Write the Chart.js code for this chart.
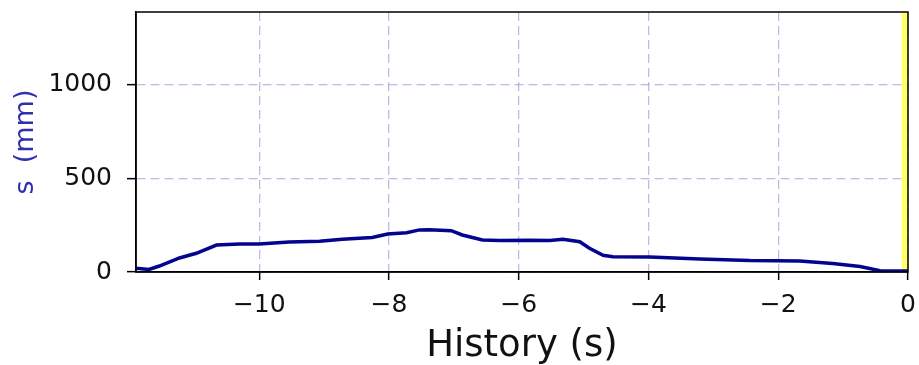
<!DOCTYPE html>
<html>
<head>
<meta charset="utf-8">
<script src="https://cdn.jsdelivr.net/npm/chart.js@4.4.0/dist/chart.umd.min.js"></script>
<style>
html,body{margin:0;padding:0;background:#fff;}
#c{display:block;}
</style>
</head>
<body>
<canvas id="c" width="919" height="365"></canvas>
<script>
// ---- data ----
const historyX = [-11.9, -11.7, -11.54, -11.23, -10.97, -10.66, -10.3, -10.0, -9.54, -9.07, -8.72, -8.26, -8.02, -7.73, -7.53, -7.38, -7.04, -6.87, -6.56, -6.3, -5.83, -5.52, -5.32, -5.06, -4.91, -4.70, -4.55, -3.98, -3.21, -2.44, -1.67, -1.16, -0.74, -0.43, 0];
const sValues  = [20, 14, 32, 75, 100, 144, 150, 150, 160, 164, 175, 185, 203, 210, 225, 226, 221, 198, 171, 168, 170, 168, 175, 162, 127, 89, 82, 80, 70, 61, 59, 46, 29, 7, 5];
const xTicks = [-10, -8, -6, -4, -2, 0];
const yTicks = [0, 500, 1000];
const xRange = [-11.9, 0];
const yRange = [0, 1390];
const bandX = [-0.1, 0];

const FONT = "'DejaVu Sans', sans-serif";
const fmt = v => (v < 0 ? '\u2212' + Math.abs(v) : String(v));

const frame = {
  id: 'frame',
  afterDatasetsDraw(chart) {
    const a = chart.chartArea, ctx = chart.ctx;
    ctx.save();
    ctx.strokeStyle = '#000';
    ctx.lineWidth = 1.5;
    ctx.strokeRect(a.left, a.top, a.right - a.left, a.bottom - a.top);
    ctx.restore();
  }
};

new Chart(document.getElementById('c'), {
  type: 'scatter',
  data: {
    datasets: [
      {
        data: bandX.map(x => ({x: x, y: yRange[1]})),
        showLine: true,
        fill: 'origin',
        backgroundColor: 'rgba(255,255,0,0.6)',
        borderWidth: 0,
        pointRadius: 0,
        order: 2
      },
      {
        data: historyX.map((x, i) => ({x: x, y: sValues[i]})),
        showLine: true,
        borderColor: '#04048f',
        borderWidth: 3.5,
        pointRadius: 0,
        tension: 0,
        fill: false,
        order: 1
      }
    ]
  },
  options: {
    responsive: false,
    animation: false,
    devicePixelRatio: 1,
    layout: {padding: {left: 0, right: 11, top: 12, bottom: 0}},
    plugins: {legend: {display: false}, tooltip: {enabled: false}},
    scales: {
      x: {
        type: 'linear',
        min: xRange[0], max: xRange[1],
        afterBuildTicks: s => { s.ticks = xTicks.map(v => ({value: v})); },
        afterFit: s => { s.height = 93; s.paddingLeft = 0; s.paddingRight = 0; },
        ticks: {
          callback: v => fmt(v),
          color: '#111', font: {family: FONT, size: 25}, padding: 10, maxRotation: 0
        },
        grid: {
          color: 'rgba(150,150,215,0.65)', lineWidth: 1.3,
          drawTicks: true, tickLength: 8, tickColor: '#000', tickWidth: 1.5
        },
        border: {display: true, color: '#000', width: 1.5, dash: [9, 5]},
        title: {
          display: true, text: 'History (s)', color: '#111',
          font: {family: FONT, size: 37, lineHeight: 1.0}, padding: {top: 0, bottom: 0}
        }
      },
      y: {
        type: 'linear',
        min: yRange[0], max: yRange[1],
        afterBuildTicks: s => { s.ticks = yTicks.map(v => ({value: v})); },
        afterFit: s => { s.width = 136; s.paddingTop = 0; s.paddingBottom = 0; },
        ticks: {
          callback: v => fmt(v),
          color: '#111', font: {family: FONT, size: 25}, padding: 15
        },
        grid: {
          color: 'rgba(150,150,215,0.65)', lineWidth: 1.3,
          drawTicks: true, tickLength: 9, tickColor: '#000', tickWidth: 1.5
        },
        border: {display: true, color: '#000', width: 1.5, dash: [9, 5]},
        title: {
          display: true, text: 's  (mm)', color: '#2f2fb0',
          font: {family: FONT, size: 27}, padding: {top: 10, bottom: 0}
        }
      }
    }
  },
  plugins: [frame]
});
</script>
</body>
</html>
